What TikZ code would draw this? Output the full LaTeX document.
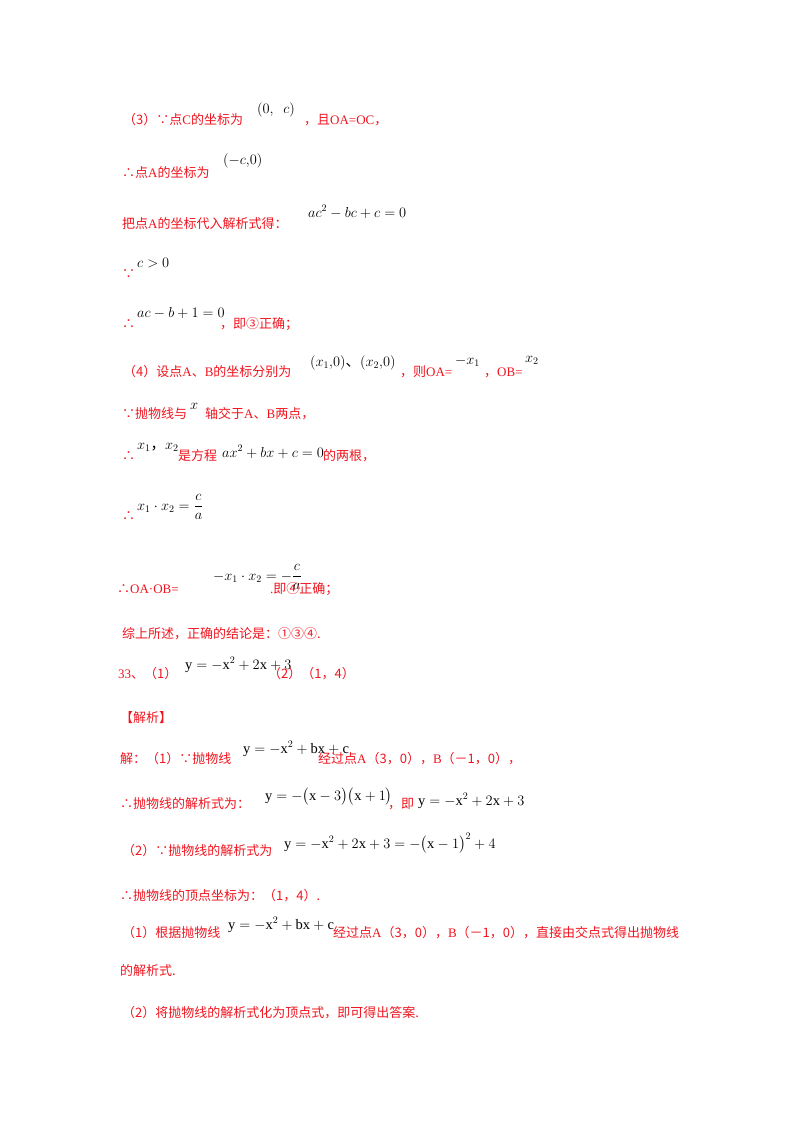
\documentclass[tikz,border=0pt]{standalone}
\usepackage{amsmath}
\usepackage{fontspec}
\setmainfont{Liberation Serif}
\newfontfamily\cj{Noto Sans CJK SC}
\definecolor{tred}{RGB}{240,20,30}
\tikzset{txt/.style={anchor=base west,inner sep=0pt,text=tred,font=\fontsize{13}{15}\selectfont},
mth/.style={anchor=base west,inner sep=0pt,text=black,font=\fontsize{14.5}{17}\selectfont}}
\begin{document}
\begin{tikzpicture}[x=1pt,y=-1pt]
\useasboundingbox (0,0) rectangle (800,1132);
% (3)
\node[txt] (a1) at (123,124) {\cj （3）∵点\rmfamily C\cj 的坐标为};
\node[mth] (a2) at (257,113) {$(0,\ \ c)$};
\node[txt] (a3) at (304,124) {\cj ，且\rmfamily OA=OC\cj ，};
\node[txt] (b1) at (122,177) {\cj ∴点\rmfamily A\cj 的坐标为};
\node[mth] (b2) at (223,164) {$(-c{,}0)$};
\node[txt] (b3) at (268,177) {，};
\node[txt] (c1) at (122,228) {\cj 把点\rmfamily A\cj 的坐标代入解析式得：};
\node[mth] (c2) at (308,217) {$ac^2-bc+c=0$};
\node[txt] (c3) at (410,228) {，};
\node[txt] (d1) at (122,278) {\cj ∵};
\node[mth] (d2) at (137,267) {$c>0$};
\node[txt] (d3) at (172,278) {，};
\node[txt] (e1) at (122,328) {\cj ∴};
\node[mth] (e2) at (137,317) {$ac-b+1=0$};
\node[txt] (e3) at (220,328) {\cj ，即③正确；};
% (4)
\node[txt] (f1) at (123,376) {\cj （4）设点\rmfamily A\cj 、\rmfamily B\cj 的坐标分别为};
\node[mth] (f2) at (310,366) {$(x_1{,}0)$\cj 、$(x_2{,}0)$};
\node[txt] (f3) at (400,376) {\cj ，则\rmfamily OA=};
\node[mth] (f4) at (455,364) {$-x_1$};
\node[txt] (f5) at (484,376) {\cj ，\rmfamily OB=};
\node[mth] (f6) at (525,362) {$x_2$};
\node[txt] (f7) at (540,376) {，};
\node[txt] (g1) at (122,418) {\cj ∵抛物线与};
\node[mth] (g2) at (190,409) {$x$};
\node[txt] (g3) at (205,418) {\cj 轴交于\rmfamily A\cj 、\rmfamily B\cj 两点，};
\node[txt] (h1) at (122,460) {\cj ∴};
\node[mth] (h2) at (137,449) {$x_1$\cj ，$x_2$};
\node[txt] (h3) at (178,460) {\cj 是方程};
\node[mth] (h4) at (222,457) {$ax^2+bx+c=0$};
\node[txt] (h5) at (323,460) {\cj 的两根，};
\node[txt] (i1) at (122,520) {\cj ∴};
\node[mth] (i2) at (137,510) {$x_1\cdot x_2=\dfrac{c}{a}$};
\node[txt] (i3) at (206,520) {，};
\node[txt] (j1) at (117,593) {\cj ∴\rmfamily OA·OB=};
\node[mth] (j2) at (213,580) {$-x_1\cdot x_2=-\dfrac{c}{a}$};
\node[txt] (j3) at (270,593) {\rmfamily .\cj 即④正确；};
\node[txt] (k1) at (122,638) {\cj 综上所述，正确的结论是：①③④.};
% 33
\node[txt] (l1) at (118,678) {\rmfamily 33\cj 、（1）};
\node[mth] (l2) at (185,669) {$\mathrm{y}=-\mathrm{x}^2+2\mathrm{x}+3$};
\node[txt] (l3) at (268,678) {\cj （2）（1，4）};
\node[txt] (m1) at (120,722) {\cj 【解析】};
\node[txt] (n1) at (120,763) {\cj 解：（1）∵抛物线};
\node[mth] (n2) at (243,753) {$\mathrm{y}=-\mathrm{x}^2+\mathrm{bx}+\mathrm{c}$};
\node[txt] (n3) at (318,763) {\cj 经过点\rmfamily A\cj （3，0），\rmfamily B\cj （－1，0），};
\node[txt] (o1) at (120,808) {\cj ∴抛物线的解析式为：};
\node[mth] (o2) at (265,800) {$\mathrm{y}=-\bigl(\mathrm{x}-3\bigr)\bigl(\mathrm{x}+1\bigr)$};
\node[txt] (o3) at (388,808) {\cj ，即};
\node[mth] (o4) at (418,805) {$\mathrm{y}=-\mathrm{x}^2+2\mathrm{x}+3$};
\node[txt] (o5) at (502,808) {，};
\node[txt] (p1) at (122,855) {\cj （2）∵抛物线的解析式为};
\node[mth] (p2) at (284,848) {$\mathrm{y}=-\mathrm{x}^2+2\mathrm{x}+3=-\bigl(\mathrm{x}-1\bigr)^2+4$};
\node[txt] (p3) at (488,855) {，};
\node[txt] (q1) at (120,900) {\cj ∴抛物线的顶点坐标为：（1，4）.};
\node[txt] (r1) at (122,937) {\cj （1）根据抛物线};
\node[mth] (r2) at (228,929) {$\mathrm{y}=-\mathrm{x}^2+\mathrm{bx}+\mathrm{c}$};
\node[txt] (r3) at (333,937) {\cj 经过点\rmfamily A\cj （3，0），\rmfamily B\cj （－1，0），直接由交点式得出抛物线};
\node[txt] (s1) at (120,975) {\cj 的解析式.};
\node[txt] (t1) at (122,1017) {\cj （2）将抛物线的解析式化为顶点式，即可得出答案.};
\end{tikzpicture}
\end{document}
